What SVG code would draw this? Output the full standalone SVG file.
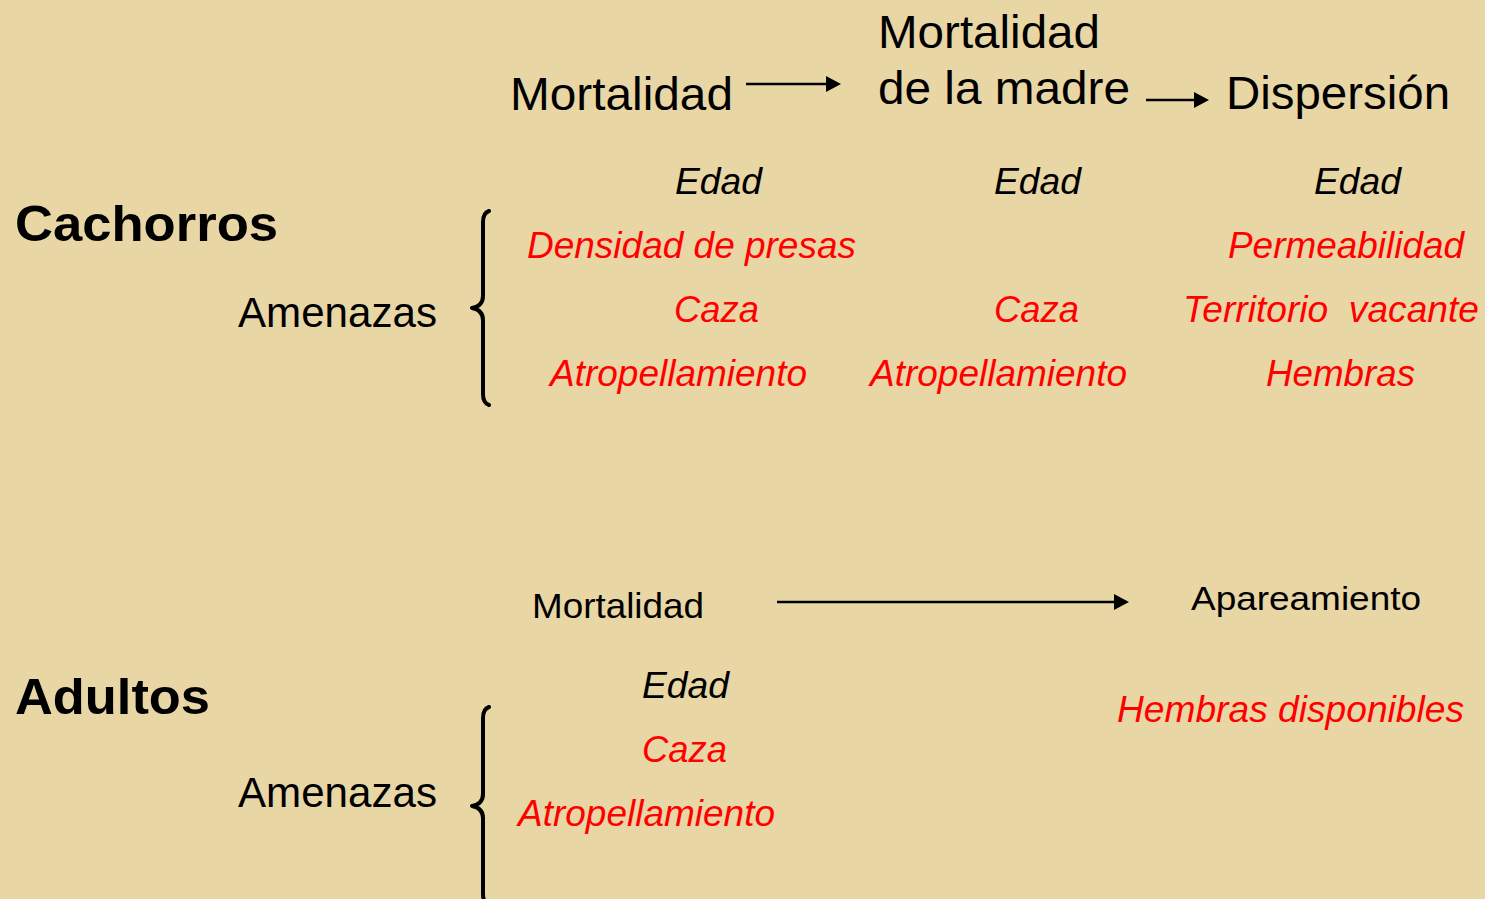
<svg xmlns="http://www.w3.org/2000/svg" width="1485" height="899" viewBox="0 0 1485 899">
<style>
text{font-family:"Liberation Sans",Arial,sans-serif;}
.h{font-size:46px;fill:#000;}
.b{font-size:50px;font-weight:bold;fill:#000;}
.am{font-size:42px;fill:#000;}
.m{font-size:35px;fill:#000;}
.i{font-size:36px;font-style:italic;fill:#000;}
.r{font-size:36px;font-style:italic;fill:#FF0000;}
.ln{stroke:#000;stroke-width:2.5;fill:none;}
.br{stroke:#000;stroke-width:4;fill:none;stroke-linecap:round;stroke-linejoin:round;}
</style>
<defs>
<marker id="ah" viewBox="0 0 15 16" refX="0" refY="8" markerWidth="15" markerHeight="16" markerUnits="userSpaceOnUse" orient="auto">
<path d="M0,0 L15,8 L0,16 Z" fill="#000"/>
</marker>
</defs>
<rect width="1485" height="899" fill="#E9D6A5"/>

<g id="header-mortalidad"><text class="h" x="510" y="110" textLength="223" lengthAdjust="spacingAndGlyphs">Mortalidad</text></g>
<g id="header-madre">
<text class="h" x="878" y="48" textLength="222" lengthAdjust="spacingAndGlyphs">Mortalidad</text>
<text class="h" x="878" y="104" textLength="252" lengthAdjust="spacingAndGlyphs">de la madre</text>
</g>
<g id="header-dispersion"><text class="h" x="1226" y="109" textLength="224" lengthAdjust="spacingAndGlyphs">Dispersión</text></g>

<g id="cachorros">
<text class="b" x="15" y="241" textLength="263" lengthAdjust="spacingAndGlyphs">Cachorros</text>
<text class="am" x="238" y="327" textLength="199" lengthAdjust="spacingAndGlyphs">Amenazas</text>
<path class="br" d="M489,211 Q483,213 483,222 L483,296 Q483,306 472,308 Q483,310 483,320 L483,394 Q483,403 489,405"/>
</g>

<g id="col1">
<text class="i" x="675" y="194" textLength="87" lengthAdjust="spacingAndGlyphs">Edad</text>
<text class="r" x="527" y="258" textLength="329" lengthAdjust="spacingAndGlyphs">Densidad de presas</text>
<text class="r" x="674" y="322" textLength="85" lengthAdjust="spacingAndGlyphs">Caza</text>
<text class="r" x="550" y="386" textLength="257" lengthAdjust="spacingAndGlyphs">Atropellamiento</text>
</g>
<g id="col2">
<text class="i" x="994" y="194" textLength="87" lengthAdjust="spacingAndGlyphs">Edad</text>
<text class="r" x="994" y="322" textLength="85" lengthAdjust="spacingAndGlyphs">Caza</text>
<text class="r" x="870" y="386" textLength="257" lengthAdjust="spacingAndGlyphs">Atropellamiento</text>
</g>
<g id="col3">
<text class="i" x="1314" y="194" textLength="87" lengthAdjust="spacingAndGlyphs">Edad</text>
<text class="r" x="1228" y="258" textLength="236" lengthAdjust="spacingAndGlyphs">Permeabilidad</text>
<text class="r" x="1183" y="322" textLength="296" lengthAdjust="spacingAndGlyphs" xml:space="preserve">Territorio  vacante</text>
<text class="r" x="1266" y="386" textLength="149" lengthAdjust="spacingAndGlyphs">Hembras</text>
</g>

<g id="adultos">
<text class="b" x="15" y="714" textLength="195" lengthAdjust="spacingAndGlyphs">Adultos</text>
<text class="am" x="238" y="807" textLength="199" lengthAdjust="spacingAndGlyphs">Amenazas</text>
<path class="br" d="M489,707 Q483,709 483,718 L483,794 Q483,804 472,806 Q483,808 483,818 L483,894 Q483,903 489,905"/>
</g>
<g id="adult-mortalidad">
<text class="m" x="532" y="618" textLength="172" lengthAdjust="spacingAndGlyphs">Mortalidad</text>
<text class="i" x="642" y="698" textLength="87" lengthAdjust="spacingAndGlyphs">Edad</text>
<text class="r" x="642" y="762" textLength="85" lengthAdjust="spacingAndGlyphs">Caza</text>
<text class="r" x="518" y="826" textLength="257" lengthAdjust="spacingAndGlyphs">Atropellamiento</text>
</g>
<g id="adult-apareamiento">
<text class="m" x="1191" y="610" style="font-size:34px" textLength="230" lengthAdjust="spacingAndGlyphs">Apareamiento</text>
<text class="r" x="1117" y="722" textLength="347" lengthAdjust="spacingAndGlyphs">Hembras disponibles</text>
</g>

<g id="connectors">
<line class="ln" x1="746" y1="84" x2="826" y2="84" marker-end="url(#ah)"/>
<line class="ln" x1="1146" y1="100" x2="1194" y2="100" marker-end="url(#ah)"/>
<line class="ln" x1="777" y1="602" x2="1114" y2="602" marker-end="url(#ah)"/>
</g>
</svg>
